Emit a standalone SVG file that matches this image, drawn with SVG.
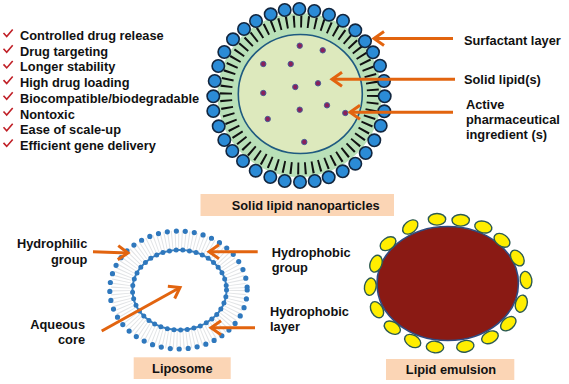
<svg xmlns="http://www.w3.org/2000/svg" width="569" height="384" viewBox="0 0 569 384">
<style>
text{font-family:"Liberation Sans",Arial,sans-serif;font-weight:700;font-size:12.800px;fill:#111}
.box{fill:#fbd5b5}
.head{fill:#2b8bd6;stroke:#12263f;stroke-width:1.600}
.drug{fill:#8a1f5c;stroke:#4a5f96;stroke-width:1}
.oil{fill:#ffee00;stroke:#2c5a52;stroke-width:1.400}
.tick{fill:none;stroke:#c01f26;stroke-width:1.600}
.arrow{fill:none;stroke:#e2640f;stroke-width:3;marker-end:url(#chev)}
</style>
<defs>
<marker id="chev" markerUnits="userSpaceOnUse" viewBox="-13 -9 16 18" refX="0" refY="0" markerWidth="16" markerHeight="18" orient="auto">
<path d="M-10-7 L0 0 L-10 7" fill="none" stroke="#e2640f" stroke-width="3"/>
</marker>
</defs>
<rect width="569" height="384" fill="#fff"/>

<g id="benefits">
<g class="tick">
<path d="M3.500 33l3.200 3.500 6-7"/><path d="M3.500 48.700l3.200 3.500 6-7"/><path d="M3.500 64.400l3.200 3.500 6-7"/><path d="M3.500 80.100l3.200 3.500 6-7"/><path d="M3.500 95.800l3.200 3.500 6-7"/><path d="M3.500 111.500l3.200 3.500 6-7"/><path d="M3.500 127.200l3.200 3.500 6-7"/><path d="M3.500 142.900l3.200 3.500 6-7"/>
</g>
<text x="20" y="40">Controlled drug release</text>
<text x="20" y="55.700">Drug targeting</text>
<text x="20" y="71.400">Longer stability</text>
<text x="20" y="87.100">High drug loading</text>
<text x="20" y="102.800">Biocompatible/biodegradable</text>
<text x="20" y="118.500">Nontoxic</text>
<text x="20" y="134.200">Ease of scale-up</text>
<text x="20" y="149.900">Efficient gene delivery</text>
</g>

<g id="solid-lipid-nanoparticle">
<circle cx="299.500" cy="95" r="82" fill="#b9e0b8"/>
<circle cx="299.500" cy="95" r="73.500" fill="none" stroke="#111" stroke-width="12" stroke-dasharray="2 5.220"/>
<ellipse cx="300.300" cy="94" rx="62" ry="59.500" fill="#dde9bd" stroke="#1f5a80" stroke-width="1.600"/>
<g>
<circle class="head" cx="299.300" cy="9" r="6.200"/><circle class="head" cx="284.700" cy="10" r="6.200"/><circle class="head" cx="270.700" cy="14.300" r="6.200"/><circle class="head" cx="256" cy="21" r="6.200"/><circle class="head" cx="244" cy="29" r="6.200"/><circle class="head" cx="233" cy="39.300" r="6.200"/><circle class="head" cx="224.300" cy="52" r="6.200"/><circle class="head" cx="218.300" cy="66" r="6.200"/><circle class="head" cx="214.700" cy="81" r="6.200"/><circle class="head" cx="213.300" cy="96.300" r="6.200"/><circle class="head" cx="213.300" cy="111" r="6.200"/><circle class="head" cx="218.700" cy="126.300" r="6.200"/><circle class="head" cx="224.300" cy="140" r="6.200"/><circle class="head" cx="232.300" cy="151" r="6.200"/><circle class="head" cx="243" cy="161" r="6.200"/><circle class="head" cx="255.700" cy="170.700" r="6.200"/><circle class="head" cx="270.300" cy="177" r="6.200"/><circle class="head" cx="284.700" cy="181" r="6.200"/><circle class="head" cx="300" cy="182" r="6.200"/><circle class="head" cx="314.700" cy="181" r="6.200"/><circle class="head" cx="328.700" cy="177.300" r="6.200"/><circle class="head" cx="342.700" cy="171.300" r="6.200"/><circle class="head" cx="355.300" cy="163.700" r="6.200"/><circle class="head" cx="365.700" cy="153" r="6.200"/><circle class="head" cx="374.300" cy="140.300" r="6.200"/><circle class="head" cx="380.700" cy="125.700" r="6.200"/><circle class="head" cx="384.300" cy="111.300" r="6.200"/><circle class="head" cx="384.700" cy="96.300" r="6.200"/><circle class="head" cx="384" cy="81" r="6.200"/><circle class="head" cx="380" cy="65.700" r="6.200"/><circle class="head" cx="373" cy="52.300" r="6.200"/><circle class="head" cx="365" cy="41.300" r="6.200"/><circle class="head" cx="355.300" cy="30.300" r="6.200"/><circle class="head" cx="343" cy="20.700" r="6.200"/><circle class="head" cx="329" cy="14.700" r="6.200"/><circle class="head" cx="314.300" cy="11" r="6.200"/>
</g>
<g>
<circle class="drug" cx="299.700" cy="45.700" r="2.700"/><circle class="drug" cx="322.700" cy="50.300" r="2.700"/><circle class="drug" cx="263.300" cy="64" r="2.700"/><circle class="drug" cx="290.700" cy="64" r="2.700"/><circle class="drug" cx="318" cy="83.300" r="2.700"/><circle class="drug" cx="295.300" cy="87" r="2.700"/><circle class="drug" cx="263.300" cy="93" r="2.700"/><circle class="drug" cx="327" cy="105.300" r="2.700"/><circle class="drug" cx="299.700" cy="109.700" r="2.700"/><circle class="drug" cx="345.300" cy="113" r="2.700"/><circle class="drug" cx="267.700" cy="119" r="2.700"/><circle class="drug" cx="304.300" cy="142" r="2.700"/>
</g>
</g>

<g id="label-surfactant"><text x="464" y="45">Surfactant layer</text></g>
<g id="label-solid-lipid"><text x="464" y="84">Solid lipid(s)</text></g>
<g id="label-api"><text x="466" y="108.500">Active</text><text x="466" y="124">pharmaceutical</text><text x="466" y="139">ingredient (s)</text></g>
<g id="caption-sln"><rect class="box" x="200.500" y="194" width="193.500" height="22"/><text x="305.700" y="210" text-anchor="middle">Solid lipid nanoparticles</text></g>

<g id="liposome">
<ellipse cx="178.500" cy="290" rx="58" ry="50" fill="none" stroke="#e2e4e6" stroke-width="19" stroke-dasharray="1 2.300"/>
<ellipse cx="178.500" cy="290" rx="68.700" ry="59" fill="none" stroke="#2f78bd" stroke-width="5.200" stroke-linecap="round" stroke-dasharray="0 9.050"/>
<ellipse cx="179.500" cy="290" rx="47" ry="40" fill="none" stroke="#3a80c0" stroke-width="2"/>
<ellipse cx="179.500" cy="290" rx="47" ry="40" fill="none" stroke="#2f78bd" stroke-width="5" stroke-linecap="round" stroke-dasharray="0 6.720"/>
</g>
<g id="label-hydrophilic"><text x="87.300" y="248.300" text-anchor="end">Hydrophilic</text><text x="87.300" y="264.300" text-anchor="end">group</text></g>
<g id="label-hydrophobic-group"><text x="271.700" y="256.700">Hydrophobic</text><text x="271.700" y="272.300">group</text></g>
<g id="label-hydrophobic-layer"><text x="270" y="315.700">Hydrophobic</text><text x="270" y="331">layer</text></g>
<g id="label-aqueous"><text x="85" y="329" text-anchor="end">Aqueous</text><text x="85" y="344.300" text-anchor="end">core</text></g>
<g id="caption-liposome"><rect class="box" x="133.700" y="357.300" width="97" height="21.700"/><text x="182.300" y="373" text-anchor="middle">Liposome</text></g>

<g id="lipid-emulsion">
<ellipse cx="447.700" cy="283.500" rx="70.700" ry="57" fill="#8a1a14" stroke="#2f4a80" stroke-width="1.600"/>
<ellipse class="oil" cx="437" cy="219.300" rx="8.700" ry="5.800"/>
<ellipse class="oil" cx="460.700" cy="220.300" rx="8.700" ry="5.800"/>
<ellipse class="oil" cx="483.300" cy="227" rx="8.700" ry="5.800" transform="rotate(15 483.300 227)"/>
<ellipse class="oil" cx="502" cy="240.300" rx="8.700" ry="5.800" transform="rotate(35 502 240.300)"/>
<ellipse class="oil" cx="517.300" cy="258" rx="8.700" ry="5.800" transform="rotate(55 517.300 258)"/>
<ellipse class="oil" cx="526" cy="280" rx="8.700" ry="5.800" transform="rotate(80 526 280)"/>
<ellipse class="oil" cx="521.300" cy="303.700" rx="8.700" ry="5.800" transform="rotate(-75 521.300 303.700)"/>
<ellipse class="oil" cx="508.300" cy="323.700" rx="8.700" ry="5.800" transform="rotate(-40 508.300 323.700)"/>
<ellipse class="oil" cx="490" cy="337.300" rx="8.700" ry="5.800" transform="rotate(-25 490 337.300)"/>
<ellipse class="oil" cx="465.300" cy="346.300" rx="8.700" ry="5.800" transform="rotate(-10 465.300 346.300)"/>
<ellipse class="oil" cx="435" cy="347" rx="8.700" ry="5.800" transform="rotate(5 435 347)"/>
<ellipse class="oil" cx="412.700" cy="341" rx="8.700" ry="5.800" transform="rotate(30 412.700 341)"/>
<ellipse class="oil" cx="392.300" cy="327.700" rx="8.700" ry="5.800" transform="rotate(30 392.300 327.700)"/>
<ellipse class="oil" cx="377" cy="309.700" rx="8.700" ry="5.800" transform="rotate(60 377 309.700)"/>
<ellipse class="oil" cx="370.300" cy="286.700" rx="8.700" ry="5.800" transform="rotate(-80 370.300 286.700)"/>
<ellipse class="oil" cx="376" cy="263.700" rx="8.700" ry="5.800" transform="rotate(-70 376 263.700)"/>
<ellipse class="oil" cx="388" cy="243.700" rx="8.700" ry="5.800" transform="rotate(-35 388 243.700)"/>
<ellipse class="oil" cx="410.300" cy="227" rx="8.700" ry="5.800" transform="rotate(-40 410.300 227)"/>
</g>
<g id="caption-emulsion"><rect class="box" x="386" y="359" width="128.300" height="21"/><text x="451" y="374" text-anchor="middle">Lipid emulsion</text></g>

<g id="connectors">
<line class="arrow" x1="453" y1="38.500" x2="374" y2="38.500"/>
<line class="arrow" x1="455" y1="79.300" x2="332" y2="79.300"/>
<line class="arrow" x1="453" y1="112.300" x2="350" y2="112.300"/>
<line class="arrow" x1="93" y1="251.700" x2="128" y2="253"/>
<line class="arrow" x1="257.700" y1="251.700" x2="209" y2="251.700"/>
<line class="arrow" x1="255" y1="327.700" x2="211" y2="327.700"/>
<line class="arrow" x1="101.700" y1="331" x2="180" y2="287.500"/>
</g>
</svg>
